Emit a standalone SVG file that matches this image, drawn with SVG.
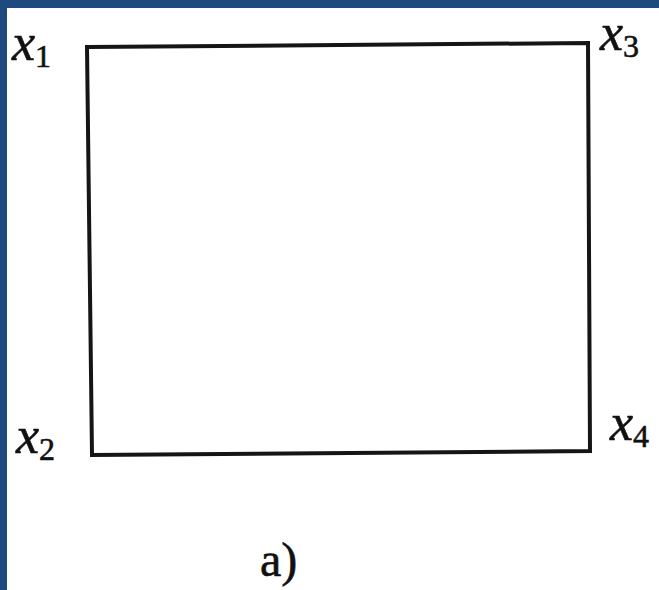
<svg xmlns="http://www.w3.org/2000/svg" width="659" height="590" viewBox="0 0 659 590">
<style>
.lbl{font-style:italic;font-size:52px;fill:#111;stroke:#111;stroke-width:0.6}
.sub{font-style:normal;font-size:32px}
.cap{font-size:48px;fill:#111;stroke:#111;stroke-width:0.6}
</style>
<rect x="0" y="0" width="659" height="590" fill="#ffffff"/>
<rect x="0" y="0" width="659" height="8" fill="#1f4a80"/>
<rect x="0" y="0" width="7" height="590" fill="#1f4a80"/>
<g id="connectors">
<polygon points="87,47 588,43 590,451 92,455" fill="none" stroke="#151515" stroke-width="4" stroke-linejoin="miter"/>
</g>
<g font-family="'Liberation Serif', 'Times New Roman', 'DejaVu Serif', serif">
<g id="x1"><text class="lbl" x="12" y="60">x<tspan class="sub" dy="7">1</tspan></text></g>
<g id="x3"><text class="lbl" x="600" y="50">x<tspan class="sub" dy="7">3</tspan></text></g>
<g id="x2"><text class="lbl" x="16" y="453">x<tspan class="sub" dy="7">2</tspan></text></g>
<g id="x4"><text class="lbl" x="610" y="440">x<tspan class="sub" dy="7">4</tspan></text></g>
<g id="caption"><text class="cap" x="260" y="576">a)</text></g>
</g>
</svg>
